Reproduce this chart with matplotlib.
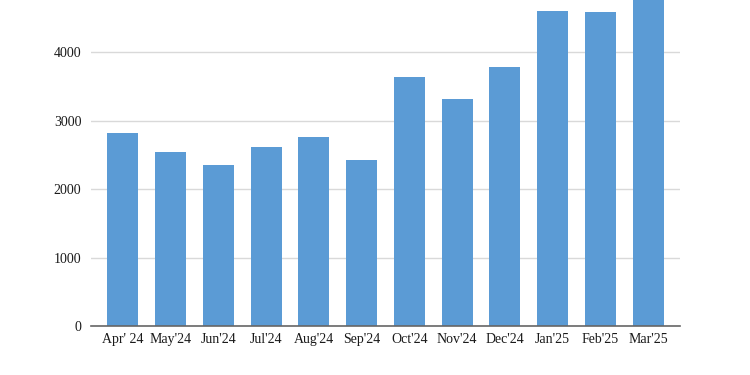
import matplotlib.pyplot as plt

# monthly values (Mar'25 runs past the top edge)
months = ["Apr' 24", "May'24", "Jun'24", "Jul'24", "Aug'24", "Sep'24",
          "Oct'24", "Nov'24", "Dec'24", "Jan'25", "Feb'25", "Mar'25"]
values = [2818, 2540, 2350, 2613, 2759, 2423, 3635, 3314, 3781, 4599, 4584, 4900]
yticks = [0, 1000, 2000, 3000, 4000]

plt.rcParams['font.family'] = ['Liberation Serif', 'DejaVu Serif']

fig = plt.figure(figsize=(7.5, 3.75), dpi=100)
ax = fig.add_axes([0.1213, 0.1307, 0.7854, 0.8693])

ax.bar(range(len(months)), values, width=0.65, color='#5b9bd5', zorder=2)

ax.set_xlim(-0.67, 11.67)
ax.set_ylim(0, 4760)
ax.set_yticks(yticks)
ax.set_xticks(range(len(months)))
ax.set_xticklabels(months)
ax.grid(axis='y', color='#d9d9d9', linewidth=1, zorder=0)

for s in ['top', 'right', 'left']:
    ax.spines[s].set_visible(False)
ax.spines['bottom'].set_color('#666666')
ax.spines['bottom'].set_linewidth(1.2)
ax.tick_params(axis='both', length=0, labelsize=10, colors='#1a1a1a')
ax.tick_params(axis='x', pad=5)
ax.tick_params(axis='y', pad=7)

fig.savefig('out.png', dpi=100)
